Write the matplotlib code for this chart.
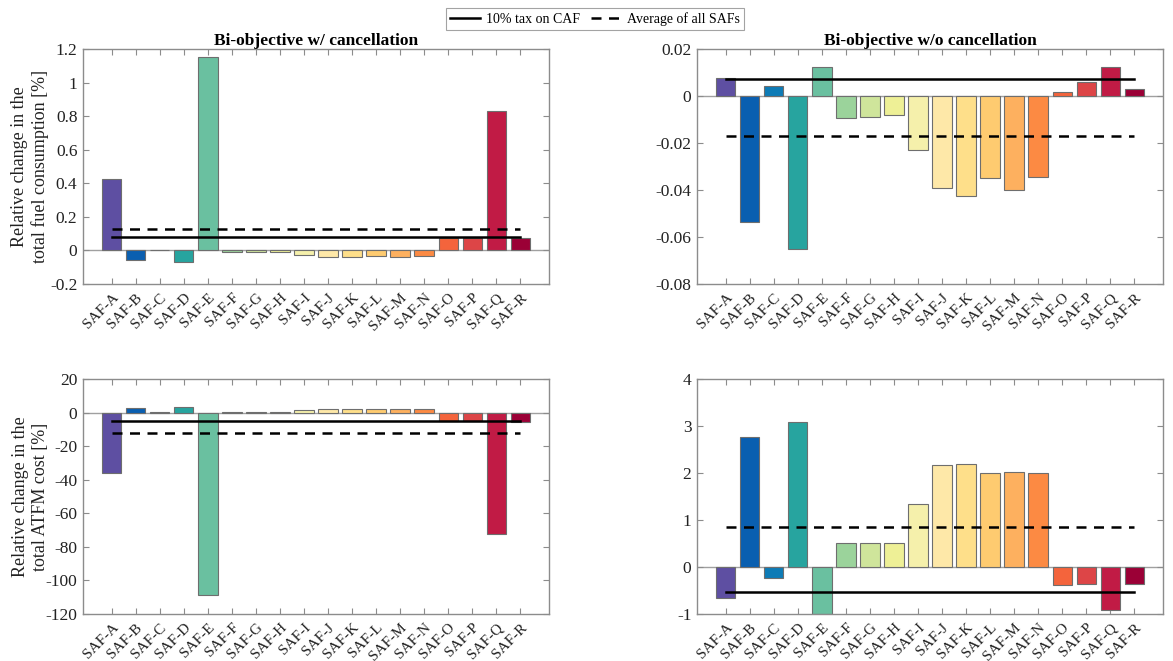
import matplotlib
matplotlib.use("Agg")
import matplotlib.pyplot as plt
from matplotlib.lines import Line2D

plt.rcParams["font.family"] = ["Liberation Serif", "DejaVu Serif"]

saf_labels = ["SAF-A", "SAF-B", "SAF-C", "SAF-D", "SAF-E", "SAF-F", "SAF-G", "SAF-H", "SAF-I",
              "SAF-J", "SAF-K", "SAF-L", "SAF-M", "SAF-N", "SAF-O", "SAF-P", "SAF-Q", "SAF-R"]

bar_colors = ["#5e4fa2", "#0a5fb0", "#0d7bb6", "#27a49f", "#6ac0a0", "#9bd39b", "#cfe59b",
              "#eef096", "#f5f0ab", "#fee8a8", "#fedf8a", "#fecb70", "#fdb05f", "#fc8a43",
              "#f4643c", "#dd4547", "#c11b45", "#9b0036"]

# Relative change in total fuel consumption [%]
fuel_with_cancel = [0.425, -0.055, 0.002, -0.071, 1.152, -0.010, -0.008, -0.008, -0.028,
                    -0.041, -0.041, -0.034, -0.040, -0.034, 0.077, 0.077, 0.828, 0.077]
fuel_without_cancel = [0.0076, -0.0537, 0.0044, -0.0649, 0.0125, -0.0092, -0.0088, -0.0081,
                       -0.0229, -0.0392, -0.0425, -0.0347, -0.0401, -0.0343, 0.0018, 0.0058,
                       0.0122, 0.0028]

# Relative change in total ATFM cost [%]
cost_with_cancel = [-36.2, 2.8, 0.2, 3.4, -108.4, 0.6, 0.6, 0.6, 1.6, 2.4, 2.2, 2.0, 2.0, 2.0,
                    -4.9, -4.9, -72.2, -5.5]
cost_without_cancel = [-0.67, 2.76, -0.24, 3.09, -1.0, 0.51, 0.51, 0.51, 1.33, 2.16, 2.20, 2.00,
                       2.03, 2.00, -0.39, -0.36, -0.92, -0.36]

# Reference levels: 10% tax on CAF (solid) and average of all SAFs (dashed)
tax_levels = {"fuel_w": 0.080, "fuel_wo": 0.0074, "cost_w": -5.3, "cost_wo": -0.53}
avg_levels = {"fuel_w": 0.128, "fuel_wo": -0.0171, "cost_w": -11.9, "cost_wo": 0.85}

panels = [
    ("fuel_w", fuel_with_cancel, (-0.2, 1.2), [-0.2, 0, 0.2, 0.4, 0.6, 0.8, 1, 1.2],
     ["-0.2", "0", "0.2", "0.4", "0.6", "0.8", "1", "1.2"]),
    ("fuel_wo", fuel_without_cancel, (-0.08, 0.02), [-0.08, -0.06, -0.04, -0.02, 0, 0.02],
     ["-0.08", "-0.06", "-0.04", "-0.02", "0", "0.02"]),
    ("cost_w", cost_with_cancel, (-120, 20), [-120, -100, -80, -60, -40, -20, 0, 20],
     ["-120", "-100", "-80", "-60", "-40", "-20", "0", "20"]),
    ("cost_wo", cost_without_cancel, (-1, 4), [-1, 0, 1, 2, 3, 4],
     ["-1", "0", "1", "2", "3", "4"]),
]

W, H = 1173, 661
fig = plt.figure(figsize=(W / 100, H / 100), dpi=100)

boxes = [(83, 49), (697, 49), (83, 379), (697, 379)]
ax_w, ax_h = 466, 235
axes = []
for (x0, y0) in boxes:
    axes.append(fig.add_axes([x0 / W, 1 - (y0 + ax_h) / H, ax_w / W, ax_h / H]))

spine_color = "#8c8c8c"
xpos = list(range(1, len(saf_labels) + 1))

for ax, (key, vals, ylim, yticks, yticklabels) in zip(axes, panels):
    ax.axhline(0, color="#a0a0a0", lw=1.0, zorder=1)
    ax.bar(xpos, vals, width=0.8, color=bar_colors, edgecolor="#6e6e6e", linewidth=0.8, zorder=2)
    ax.plot([xpos[0], xpos[-1]], [tax_levels[key]] * 2, color="black", lw=1.8, zorder=3)
    ax.plot([xpos[0], xpos[-1]], [avg_levels[key]] * 2, color="black", lw=1.8,
            linestyle=(0, (4, 3)), zorder=3)
    ax.set_xlim(-0.2, 19.2)
    ax.set_ylim(*ylim)
    ax.set_yticks(yticks)
    ax.set_yticklabels(yticklabels)
    ax.set_xticks(xpos)
    ax.set_xticklabels(saf_labels, rotation=45, ha="right", va="top", rotation_mode="anchor")
    ax.tick_params(axis="both", direction="in", top=True, right=True, length=4,
                   color=spine_color, labelcolor="#222222", width=0.8)
    ax.tick_params(axis="y", labelsize=12.5, pad=4)
    ax.tick_params(axis="x", labelsize=11, pad=5)
    for sp in ax.spines.values():
        sp.set_color(spine_color)
        sp.set_linewidth(1.0)

axes[0].set_title("Bi-objective w/ cancellation", fontsize=12.5, fontweight="bold", pad=3)
axes[1].set_title("Bi-objective w/o cancellation", fontsize=12.5, fontweight="bold", pad=3)
axes[0].set_ylabel("Relative change in the\ntotal fuel consumption [%]", fontsize=13,
                   color="#222222")
axes[2].set_ylabel("Relative change in the\ntotal ATFM cost [%]", fontsize=13,
                   color="#222222")
for ax in (axes[0], axes[2]):
    ax.yaxis.set_label_coords(-0.073, 0.5)

handles = [Line2D([], [], color="black", lw=1.8),
           Line2D([], [], color="black", lw=1.8, linestyle=(0, (4, 3)))]
leg = fig.legend(handles, ["10% tax on CAF", "Average of all SAFs"], loc="center",
                 bbox_to_anchor=(595 / W, 1 - 19 / H), ncol=2, fontsize=10, frameon=True,
                 fancybox=False, handlelength=2.2, columnspacing=0.8, handletextpad=0.4,
                 borderpad=0.3)
leg.get_frame().set_edgecolor(spine_color)
leg.get_frame().set_linewidth(0.8)

fig.savefig("out.png", dpi=100)
